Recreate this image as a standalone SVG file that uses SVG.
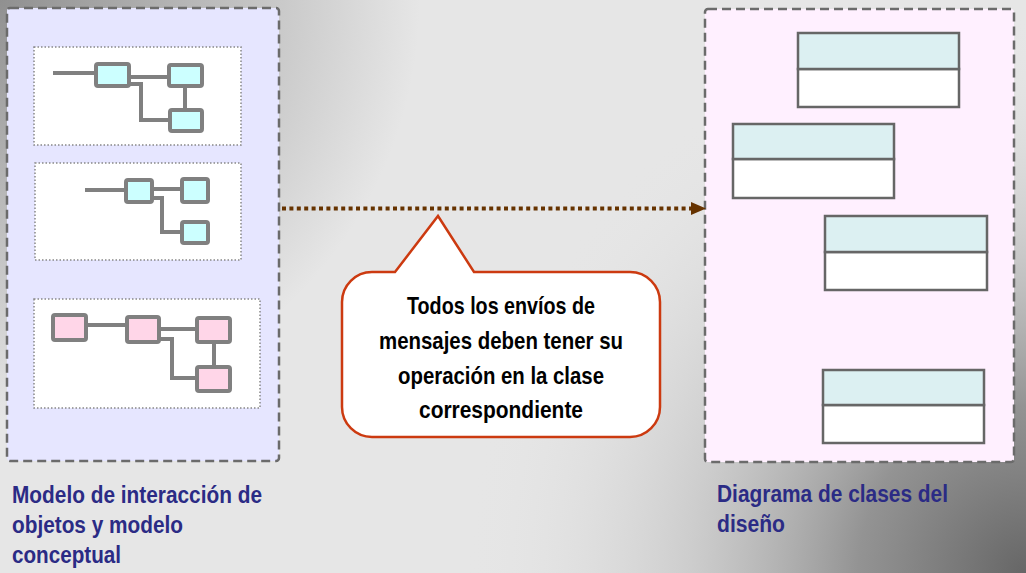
<svg xmlns="http://www.w3.org/2000/svg" width="1026" height="573" viewBox="0 0 1026 573">
<defs>
<radialGradient id="tl" gradientUnits="userSpaceOnUse" cx="0" cy="0" r="420">
<stop offset="0" stop-color="#909090" stop-opacity="1"/>
<stop offset="1" stop-color="#909090" stop-opacity="0"/>
</radialGradient>
<radialGradient id="br" gradientUnits="userSpaceOnUse" cx="1026" cy="573" r="560">
<stop offset="0" stop-color="#666666" stop-opacity="1"/>
<stop offset="0.3" stop-color="#8a8a8a" stop-opacity="0.9"/>
<stop offset="0.6" stop-color="#b4b4b4" stop-opacity="0.5"/>
<stop offset="1" stop-color="#e6e6e6" stop-opacity="0"/>
</radialGradient>
</defs>
<style>
.panel{stroke:#6b6b6b;stroke-width:2.5;stroke-dasharray:9 5}
.sub{fill:#ffffff;stroke:#888888;stroke-width:1.5;stroke-dasharray:1.5 2}
.mn{stroke:#808080;stroke-width:4}
.cy{fill:#ccffff}
.pk{fill:#ffd6e8}
.ln{fill:none;stroke:#808080;stroke-width:4}
.ch{fill:#dcf0f2;stroke:#666666;stroke-width:2.5}
.cb{fill:#ffffff;stroke:#666666;stroke-width:2.5}
.lbl{font-family:"Liberation Sans Narrow","Liberation Sans",Arial,sans-serif;font-weight:bold;font-size:23px;fill:#2b2b85}
.call{font-family:"Liberation Sans",Arial,sans-serif;font-weight:bold;font-size:24px;fill:#000000;text-anchor:middle}
</style>
<rect x="0" y="0" width="1026" height="573" fill="#e6e6e6"/>
<rect x="0" y="0" width="1026" height="573" fill="url(#tl)"/>
<rect x="0" y="0" width="1026" height="573" fill="url(#br)"/>

<g id="left-panel">
<rect class="panel" x="7" y="8" width="272" height="453" rx="3" fill="#e6e6ff"/>
</g>

<g id="sub1">
<rect class="sub" x="34" y="47" width="207" height="98"/>
<path class="ln" d="M53,73 H96 M129,77 H169 M129,84 H141 V120 H170 M185,86 V110"/>
<rect class="mn cy" x="96" y="64" width="33" height="22" rx="2"/>
<rect class="mn cy" x="169" y="65" width="33" height="21" rx="2"/>
<rect class="mn cy" x="170" y="110" width="32" height="21" rx="2"/>
</g>

<g id="sub2">
<rect class="sub" x="35" y="163" width="206" height="97"/>
<path class="ln" d="M85,190 H126 M152,189 H182 M152,198 H162 V232 H182"/>
<rect class="mn cy" x="126" y="180" width="26" height="22" rx="2"/>
<rect class="mn cy" x="182" y="179" width="26" height="23" rx="2"/>
<rect class="mn cy" x="182" y="222" width="26" height="21" rx="2"/>
</g>

<g id="sub3">
<rect class="sub" x="34" y="299" width="226" height="109"/>
<path class="ln" d="M86,325 H127 M159,329 H197 M159,339 H172 V378 H197 M214,342 V367"/>
<rect class="mn pk" x="53" y="315" width="33" height="25" rx="2"/>
<rect class="mn pk" x="127" y="317" width="32" height="25" rx="2"/>
<rect class="mn pk" x="197" y="318" width="33" height="24" rx="2"/>
<rect class="mn pk" x="197" y="367" width="33" height="24" rx="2"/>
</g>

<g id="right-panel">
<rect class="panel" x="705" y="9" width="309" height="453" rx="3" fill="#fff0ff"/>
</g>

<g id="class1">
<rect class="cb" x="798" y="69" width="161" height="38"/>
<rect class="ch" x="798" y="33" width="161" height="36"/>
</g>
<g id="class2">
<rect class="cb" x="733" y="159" width="161" height="39"/>
<rect class="ch" x="733" y="124" width="161" height="35"/>
</g>
<g id="class3">
<rect class="cb" x="825" y="252" width="162" height="38"/>
<rect class="ch" x="825" y="216" width="162" height="36"/>
</g>
<g id="class4">
<rect class="cb" x="823" y="405" width="161" height="38"/>
<rect class="ch" x="823" y="370" width="161" height="35"/>
</g>

<g id="connectors">
<line x1="282" y1="208.5" x2="692" y2="208.5" stroke="#663300" stroke-width="4" stroke-dasharray="4 3.4"/>
<polygon points="691,202 706,208.5 691,215" fill="#663300"/>
</g>

<g id="callout">
<path d="M372,272 H395 L438,216 L474,272 H630 A30,30 0 0 1 660,302 V407 A30,30 0 0 1 630,437 H372 A30,30 0 0 1 342,407 V302 A30,30 0 0 1 372,272 Z" fill="#ffffff" stroke="#cc3a10" stroke-width="2.5"/>
<text class="call" x="501" y="314" textLength="188" lengthAdjust="spacingAndGlyphs">Todos los envíos de</text>
<text class="call" x="501" y="349" textLength="244" lengthAdjust="spacingAndGlyphs">mensajes deben tener su</text>
<text class="call" x="501" y="384" textLength="206" lengthAdjust="spacingAndGlyphs">operación en la clase</text>
<text class="call" x="501" y="418" textLength="164" lengthAdjust="spacingAndGlyphs">correspondiente</text>
</g>

<g id="left-label">
<text class="lbl" x="12" y="503" textLength="250" lengthAdjust="spacingAndGlyphs">Modelo de interacción de</text>
<text class="lbl" x="12" y="533" textLength="171" lengthAdjust="spacingAndGlyphs">objetos y modelo</text>
<text class="lbl" x="12" y="563" textLength="109" lengthAdjust="spacingAndGlyphs">conceptual</text>
</g>
<g id="right-label">
<text class="lbl" x="717" y="502" textLength="231" lengthAdjust="spacingAndGlyphs">Diagrama de clases del</text>
<text class="lbl" x="717" y="532" textLength="68" lengthAdjust="spacingAndGlyphs">diseño</text>
</g>
</svg>
